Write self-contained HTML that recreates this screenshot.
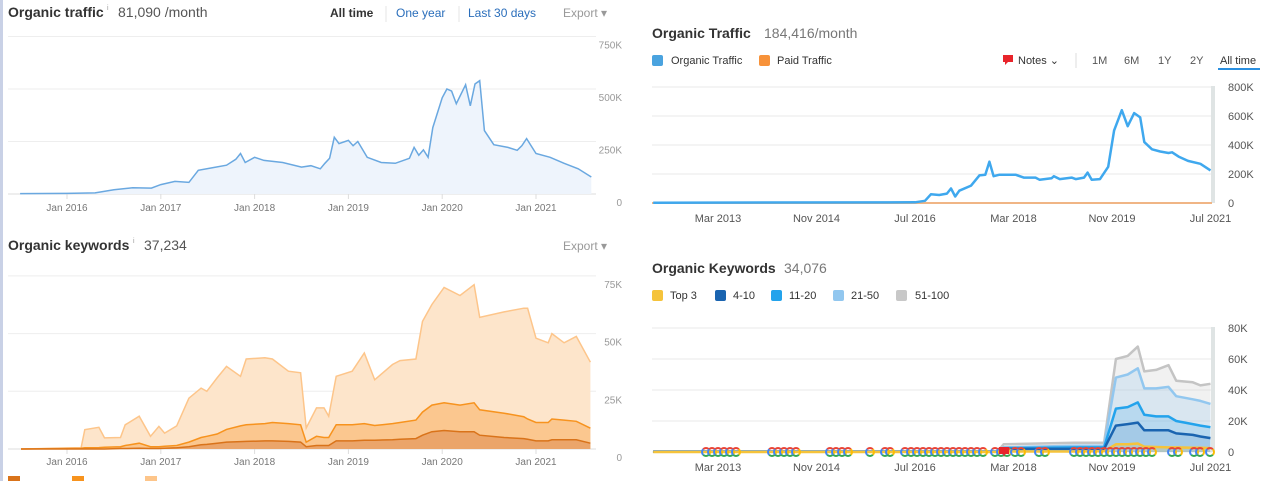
<!DOCTYPE html>
<html><head><meta charset="utf-8">
<style>
body{margin:0;width:1267px;height:481px;overflow:hidden;background:#fff;font-family:"Liberation Sans",sans-serif;}
svg{position:absolute;left:0;top:0}
</style></head>
<body>
<svg width="1267" height="481">
<rect x="0" y="0" width="3" height="481" fill="#c9d1e6"/>
<text x="8" y="17" font-size="14" font-weight="bold" fill="#333">Organic traffic</text>
<text x="107" y="10" font-size="7" fill="#999">i</text>
<text x="118" y="17" font-size="14" fill="#555">81,090 /month</text>
<text x="330" y="17" font-size="12" font-weight="bold" fill="#333">All time</text>
<line x1="386" y1="6" x2="386" y2="22" stroke="#e5e5e5"/>
<text x="396" y="17" font-size="12" fill="#2a6ebb">One year</text>
<line x1="459" y1="6" x2="459" y2="22" stroke="#e5e5e5"/>
<text x="468" y="17" font-size="12" fill="#2a6ebb">Last 30 days</text>
<text x="563" y="17" font-size="12" fill="#999">Export ▾</text>
<text x="8" y="250" font-size="14" font-weight="bold" fill="#333">Organic keywords</text>
<text x="133" y="243" font-size="7" fill="#999">i</text>
<text x="144" y="250" font-size="14" fill="#555">37,234</text>
<text x="563" y="250" font-size="12" fill="#999">Export ▾</text>
<g>
<rect x="8" y="476" width="12" height="10" fill="#d9731a"/><rect x="72" y="476" width="12" height="10" fill="#f7931e"/><rect x="145" y="476" width="12" height="10" fill="#fdc58a"/>
</g>
<text x="652" y="38" font-size="14" font-weight="bold" fill="#333">Organic Traffic</text>
<text x="764" y="38" font-size="14" fill="#777">184,416/month</text>
<rect x="652" y="55" width="11" height="11" rx="2" fill="#4aa3df"/>
<text x="671" y="64" font-size="11" fill="#333">Organic Traffic</text>
<rect x="759" y="55" width="11" height="11" rx="2" fill="#f7923a"/>
<text x="777" y="64" font-size="11" fill="#333">Paid Traffic</text>
<path d="M1003,55 h10 v7 h-5 l-3,3 v-3 h-2z" fill="#e8242b"/>
<text x="1018" y="64" font-size="11" fill="#333">Notes ⌄</text>
<line x1="1076" y1="53" x2="1076" y2="68" stroke="#ddd"/>
<text x="1092" y="64" font-size="11" fill="#555">1M</text>
<text x="1124" y="64" font-size="11" fill="#555">6M</text>
<text x="1158" y="64" font-size="11" fill="#555">1Y</text>
<text x="1190" y="64" font-size="11" fill="#555">2Y</text>
<text x="1220" y="64" font-size="11" fill="#333">All time</text>
<rect x="1218" y="68" width="42" height="2" fill="#2a8fe0"/>
<text x="652" y="273" font-size="14" font-weight="bold" fill="#333">Organic Keywords</text>
<text x="784" y="273" font-size="14" fill="#777">34,076</text>
<g font-size="11" fill="#333">
<rect x="652" y="290" width="11" height="11" rx="2" fill="#f5c33b"/><text x="670" y="299">Top 3</text>
<rect x="715" y="290" width="11" height="11" rx="2" fill="#1a64b0"/><text x="733" y="299">4-10</text>
<rect x="771" y="290" width="11" height="11" rx="2" fill="#23a3ec"/><text x="789" y="299">11-20</text>
<rect x="833" y="290" width="11" height="11" rx="2" fill="#92c7ef"/><text x="851" y="299">21-50</text>
<rect x="896" y="290" width="11" height="11" rx="2" fill="#c8c8c8"/><text x="915" y="299">51-100</text>
</g>
<g id="charts"></g>
</svg>
<script>
const ltT=[2015.5,2016.0,2016.3,2016.5,2016.7,2016.9,2017.0,2017.15,2017.3,2017.4,2017.55,2017.7,2017.8,2017.85,2017.9,2018.0,2018.1,2018.3,2018.5,2018.6,2018.7,2018.75,2018.8,2018.85,2018.9,2019.0,2019.05,2019.1,2019.2,2019.35,2019.5,2019.65,2019.7,2019.75,2019.8,2019.85,2019.9,2020.0,2020.05,2020.1,2020.15,2020.25,2020.3,2020.35,2020.4,2020.45,2020.55,2020.7,2020.8,2020.85,2020.9,2021.0,2021.15,2021.3,2021.45,2021.59];
const ltV=[2,3,5,20,30,28,45,60,55,113,125,137,165,193,150,175,160,150,128,135,120,146,170,270,240,255,230,250,175,150,146,170,222,185,210,175,316,458,500,490,430,520,420,524,540,302,235,222,208,230,264,193,175,146,120,81];
const lkT=[2015.51,2016.15,2016.19,2016.34,2016.40,2016.57,2016.62,2016.77,2016.89,2016.98,2017.04,2017.17,2017.30,2017.43,2017.49,2017.60,2017.70,2017.85,2017.91,2018.11,2018.19,2018.36,2018.49,2018.55,2018.66,2018.74,2018.79,2018.87,2019.04,2019.17,2019.28,2019.47,2019.55,2019.72,2019.79,2019.89,2020.02,2020.19,2020.34,2020.40,2020.66,2020.87,2020.91,2021.00,2021.13,2021.17,2021.30,2021.43,2021.58];
const lkTop=[0,0.5,8.4,9.4,4.8,5,10.5,14.2,5.5,9.8,6.9,10,22,26.4,25,30.8,35.8,31.5,39,39.5,39,33.7,33,9.1,17.8,17.8,14.2,31.5,33.7,41.6,30,36.6,38.3,39,55.3,62.6,70,66.5,71.2,57,59.4,61,61,48,46,50,46,48.8,37.6];
const lkMid=[0,0.3,0.5,0.6,0.8,1,1.5,2.5,1,1,1.2,1.5,3,5,5.5,6.5,8.5,10,10.5,11,11.5,11,10.5,3,5.5,5,5,10.5,10.5,11,10.2,11,11.5,12.5,16,19,20,19,20,17,15.5,14,13,11.5,11.5,13,12.5,12,9];
const lkLow=[0,0,0,0,0,0.2,0.2,0.3,0.2,0.2,0.3,0.5,1,1.8,2,2.5,3,3.2,3.3,3.5,3.5,3.3,3,1,1.5,1.5,1.5,3.5,3.5,3.8,3.8,4,4.2,4.5,6,7.5,8,7.5,7.5,6,5,4.5,4.2,3.5,3.5,4,4,4,2.5];
const rtT=[2012.07,2016.5,2016.67,2016.77,2016.91,2017.04,2017.11,2017.18,2017.25,2017.45,2017.59,2017.69,2017.76,2017.83,2017.93,2018.2,2018.34,2018.54,2018.61,2018.81,2018.85,2018.95,2019.15,2019.22,2019.36,2019.42,2019.49,2019.63,2019.77,2019.87,2020.0,2020.1,2020.21,2020.31,2020.38,2020.51,2020.65,2020.79,2020.85,2020.96,2021.12,2021.33,2021.5];
const rtV=[2,5,15,60,55,65,100,45,85,120,190,195,285,185,195,195,175,175,160,170,185,165,175,165,175,210,160,165,250,500,640,530,620,590,420,370,355,345,350,320,290,270,225];
const rkT=[2012.07,2017.9,2018.0,2019.2,2019.7,2019.9,2020.1,2020.27,2020.38,2020.58,2020.79,2020.92,2021.2,2021.33,2021.5];
const rk51=[0.5,0.5,5,6,6,60,62,68,52,53,56,46,45,43,44];
const rk21=[0.3,0.3,3,4,4,48,50,54,41,41,42,36,34,33,31];
const rk11=[0.2,0.2,2.5,3,3,28,29,32,24,23,23,20,18,17,16];
const rk4=[0.1,0.1,2,2,2,17,18,19,14,14,14,12,11,10,9];
const rk3=[0,0,0.3,0.3,0.5,5,5,5.5,3.5,3.2,3,3,2.8,2.7,2.5];
const leftYears=["Jan 2016","Jan 2017","Jan 2018","Jan 2019","Jan 2020","Jan 2021"];
const ltTicks=["750K","500K","250K","0"];
const lkTicks=["75K","50K","25K","0"];
const rtTicks=["800K","600K","400K","200K","0"];
const rkTicks=["80K","60K","40K","20K","0"];
const rightDates=["Mar 2013","Nov 2014","Jul 2016","Mar 2018","Nov 2019","Jul 2021"];
const gMarks=[706,712,718,724,730,736,772,778,784,790,796,830,836,842,848,870,885,890,905,911,917,923,929,935,941,947,953,959,965,971,977,983,995,1001,1007,1015,1021,1039,1045,1074,1080,1086,1092,1098,1104,1110,1116,1122,1128,1134,1140,1146,1152,1172,1178,1194,1200,1210];

const NS="http://www.w3.org/2000/svg";
const root=document.getElementById('charts');
function mk(tag,attrs,parent){const e=document.createElementNS(NS,tag);for(const k in attrs)e.setAttribute(k,attrs[k]);(parent||root).appendChild(e);return e;}
const lx=t=>67+(t-2016)*93.8;
const ltY=v=>194-v/250*52.5;
const lkY=v=>449-v/25*57.7;
const rx=t=>718+(t-2013.167)*59.1;
const rtY=v=>203-v/200*29;
const rkY=v=>452-v/20*31;
function linePath(T,V,fx,fy){return T.map((t,i)=>(i?'L':'M')+fx(t).toFixed(1)+','+fy(V[i]).toFixed(1)).join('');}
function areaPath(T,V,fx,fy){return linePath(T,V,fx,fy)+'L'+fx(T[T.length-1])+','+fy(0)+'L'+fx(T[0])+','+fy(0)+'Z';}

[750,500,250,0].forEach((v,i)=>{
 const g=mk('line',{x1:8,x2:596,y1:ltY(v),y2:ltY(v),stroke:i==3?'#ddd':'#eee'});
 
 
 const t=mk('text',{x:622,y:ltY(v)+12,'font-size':10,fill:'#999','text-anchor':'end'});t.textContent=ltTicks[i];
 
 
});
leftYears.forEach((s,i)=>{
 const x=lx(2016+i);
 const tk=mk('line',{x1:x,x2:x,y1:194,y2:199,stroke:'#ddd'});
 
 
 const t=mk('text',{x:x,y:211,'font-size':10,fill:'#777','text-anchor':'middle'});t.textContent=s;
 
 
 const t2=mk('text',{x:x,y:465,'font-size':10,fill:'#777','text-anchor':'middle'});t2.textContent=s;
 
 
 const tk2=mk('line',{x1:x,x2:x,y1:449,y2:454,stroke:'#ddd'});
 
 
});
const la=mk('path',{d:areaPath(ltT,ltV,lx,ltY),fill:'#eef4fc'});


const ll=mk('path',{d:linePath(ltT,ltV,lx,ltY),fill:'none',stroke:'#6aa8e0','stroke-width':1.5});



[75,50,25,0].forEach((v,i)=>{
 const g=mk('line',{x1:8,x2:596,y1:lkY(v),y2:lkY(v),stroke:i==3?'#ddd':'#eee'});
 
 
 const t=mk('text',{x:622,y:lkY(v)+12,'font-size':10,fill:'#999','text-anchor':'end'});t.textContent=lkTicks[i];
 
 
});
[[lkTop,'#fde5cb','#fdc58a','keywords-51-100'],[lkMid,'#fbc78f','#f7931e','keywords-4-10'],[lkLow,'#eba56a','#d9731a','keywords-top3']].forEach(s=>{
 const a=mk('path',{d:areaPath(lkT,s[0],lx,lkY),fill:s[1]});
 
 
 const l=mk('path',{d:linePath(lkT,s[0],lx,lkY),fill:'none',stroke:s[2],'stroke-width':1.5});
 
 
});

[800,600,400,200,0].forEach((v,i)=>{
 const g=mk('line',{x1:652,x2:1212,y1:rtY(v),y2:rtY(v),stroke:'#eaeaea'});
 
 
 const t=mk('text',{x:1228,y:rtY(v)+4,'font-size':11,fill:'#555'});t.textContent=rtTicks[i];
 
 
 const g2=mk('line',{x1:652,x2:1212,y1:rkY(v/10),y2:rkY(v/10),stroke:'#eaeaea'});
 
 
 const t2=mk('text',{x:1228,y:rkY(v/10)+4,'font-size':11,fill:'#555'});t2.textContent=rkTicks[i];
 
 
});
const sb1=mk('rect',{x:1211,y:86,width:4,height:117,fill:'#dfe4e4'});


const sb2=mk('rect',{x:1211,y:327,width:4,height:125,fill:'#dfe4e4'});


rightDates.forEach((s,i)=>{
 const x=718+i*98.5;
 const t=mk('text',{x:x,y:222,'font-size':11,fill:'#555','text-anchor':'middle'});t.textContent=s;
 
 
 const t2=mk('text',{x:x,y:471,'font-size':11,fill:'#555','text-anchor':'middle'});t2.textContent=s;
 
 
});
const pl=mk('line',{x1:652,x2:1212,y1:203,y2:203,stroke:'#f0b585','stroke-width':2});


const ol=mk('path',{d:linePath(rtT,rtV,rx,rtY),fill:'none',stroke:'#3fa8ee','stroke-width':2.5,'stroke-linejoin':'round'});



[[rk51,'rgba(200,200,200,0.25)','#c4c4c4','kw-51-100'],[rk21,'rgba(146,199,239,0.25)','#92c7ef','kw-21-50'],[rk11,'rgba(35,163,236,0.18)','#23a3ec','kw-11-20'],[rk4,'rgba(26,100,176,0.12)','#1a64b0','kw-4-10'],[rk3,'rgba(245,195,59,0.2)','#f5c33b','kw-top3']].forEach(s=>{
 const a=mk('path',{d:areaPath(rkT,s[0],rx,rkY),fill:s[1]});
 
 
 const l=mk('path',{d:linePath(rkT,s[0],rx,rkY),fill:'none',stroke:s[2],'stroke-width':2.5,'stroke-linejoin':'round'});
 
 
});
const cols=['#ea4335','#fbbc05','#34a853','#4285f4'];
gMarks.forEach(x=>{
 const g=mk('g',{});
 
 
 cols.forEach((c,k)=>{
  const a0=(k*90-135)*Math.PI/180,a1=((k+1)*90-135)*Math.PI/180,r=4,cy=452;
  mk('path',{d:`M${x+r*Math.cos(a0)},${cy+r*Math.sin(a0)}A${r},${r} 0 0 1 ${x+r*Math.cos(a1)},${cy+r*Math.sin(a1)}`,fill:'none',stroke:c,'stroke-width':2},g);
 });
});
const note=mk('path',{d:'M999,447 h10 v7 h-4 l-1,3 l-1,-3 h-4z',fill:'#e8242b'});


</script>
</body></html>
